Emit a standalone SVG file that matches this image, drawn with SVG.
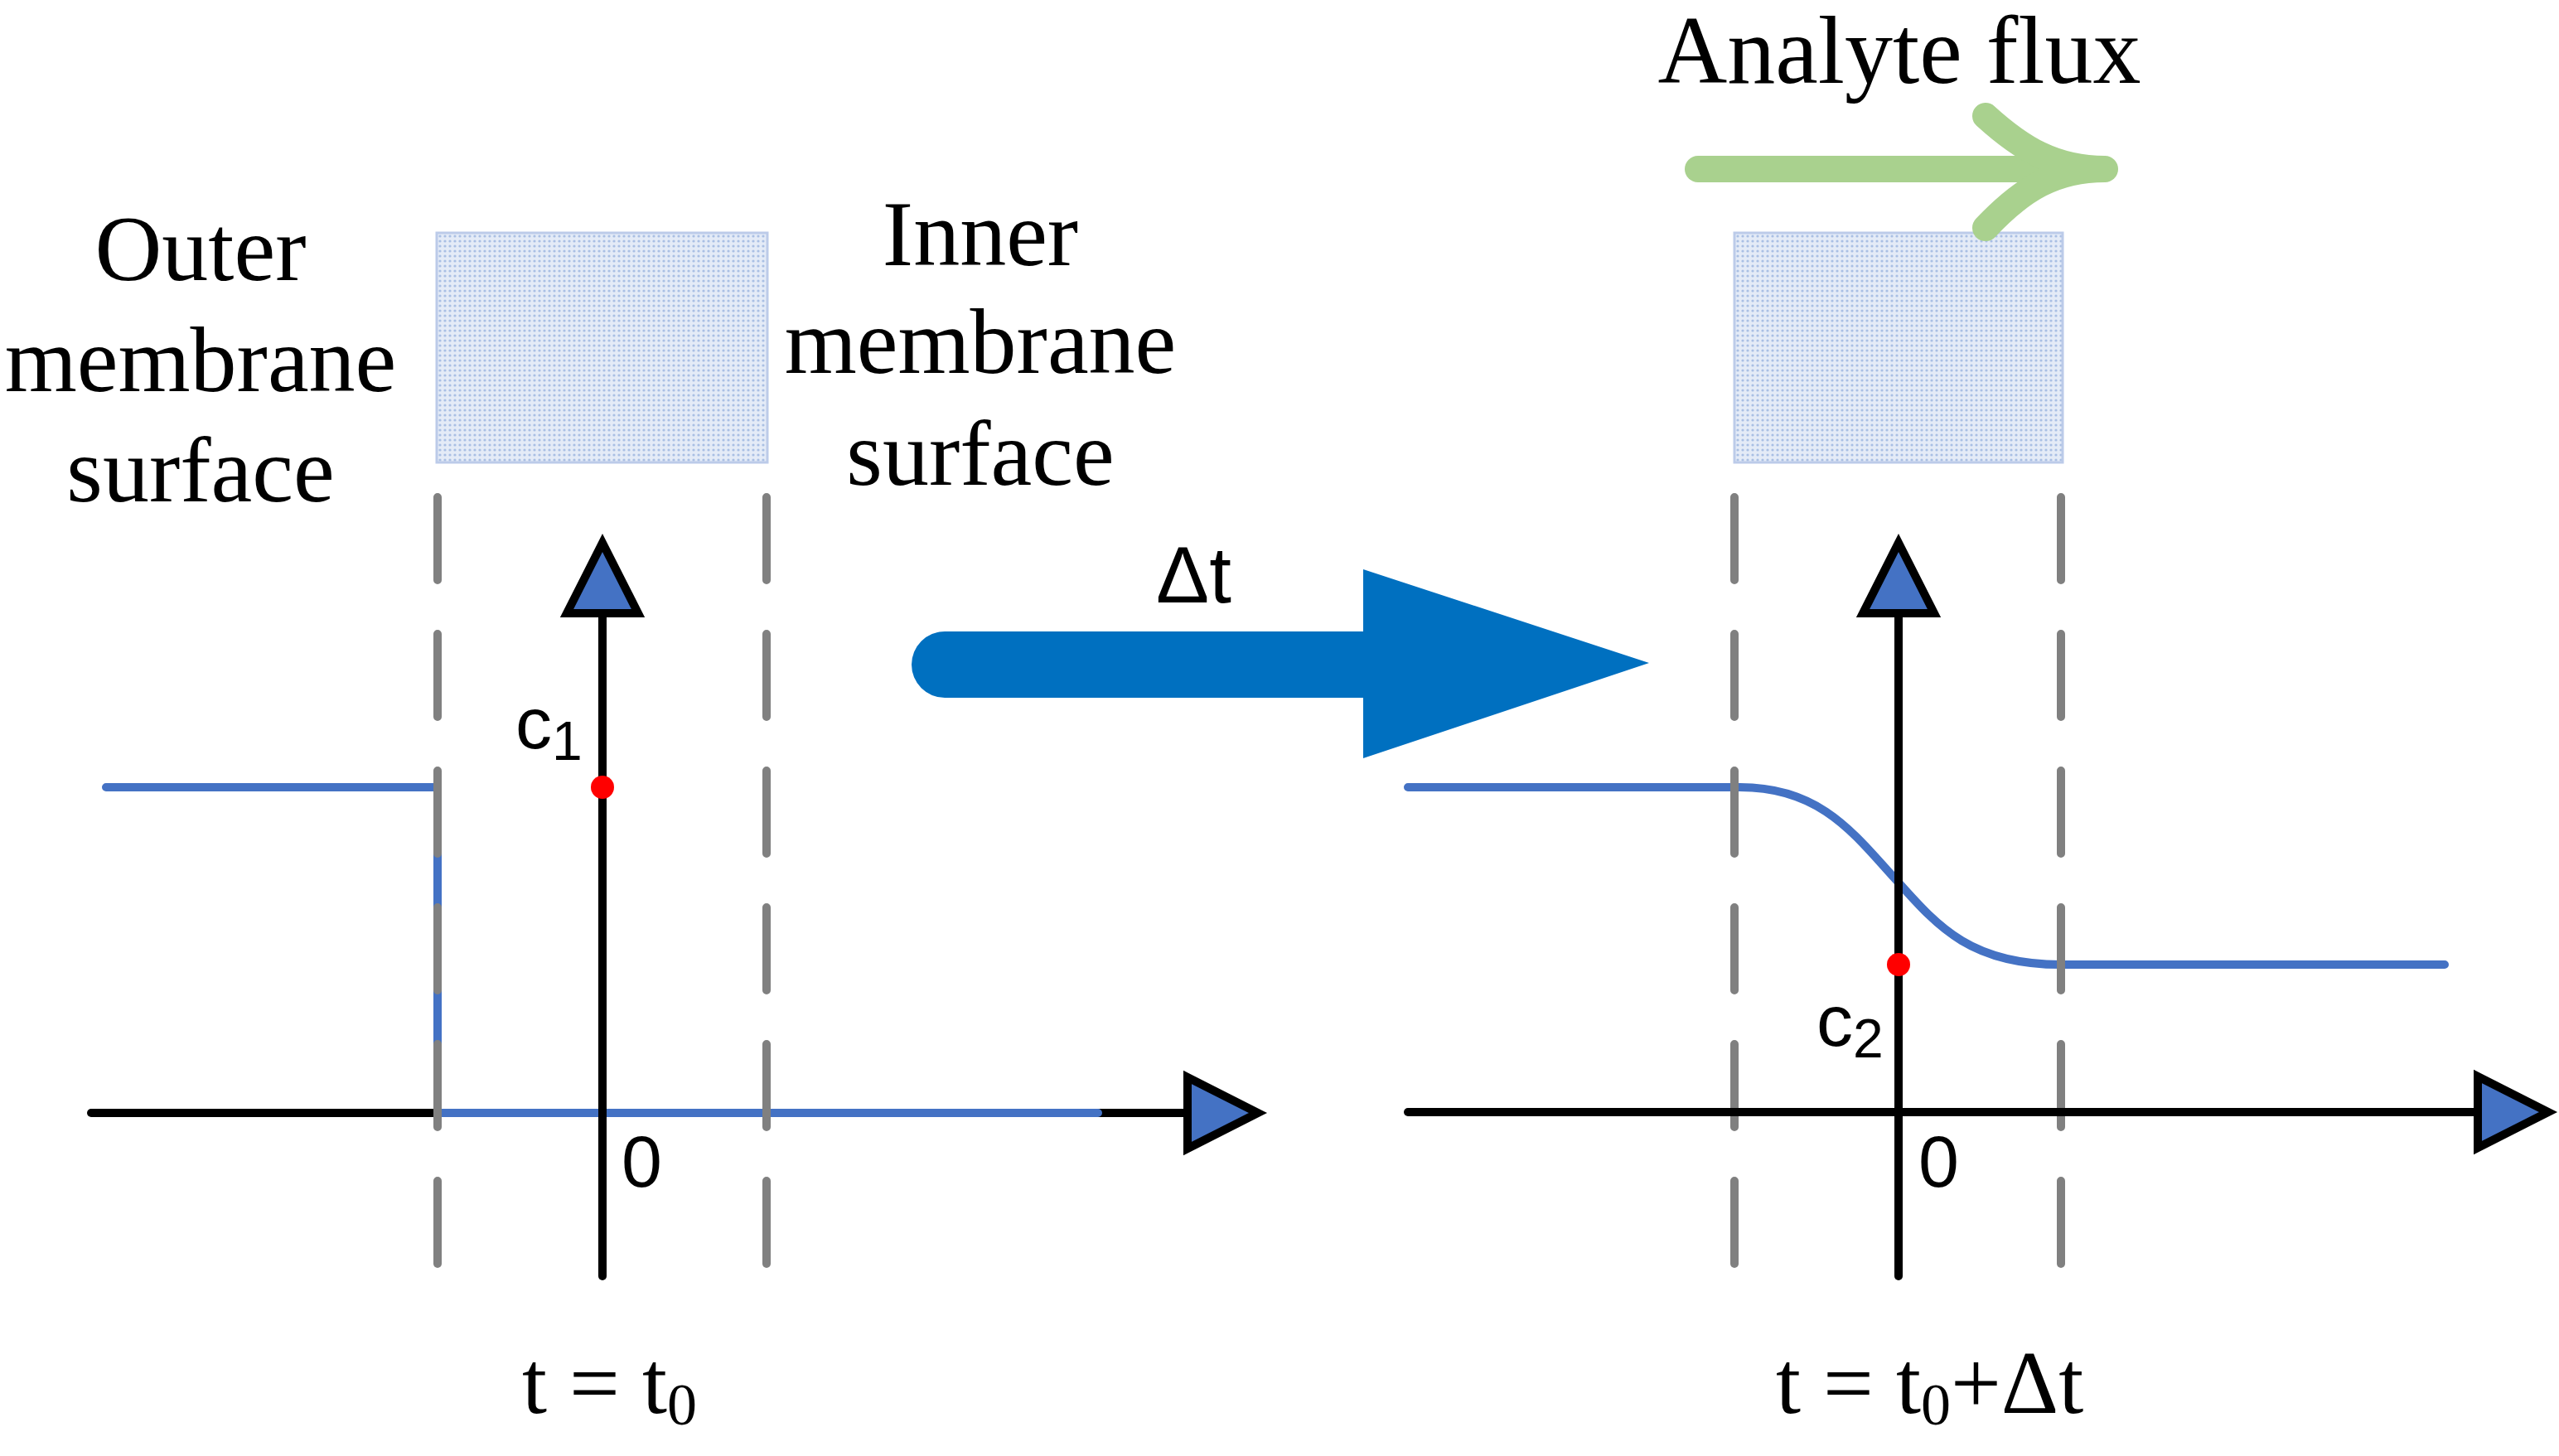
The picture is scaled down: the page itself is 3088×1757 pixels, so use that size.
<svg xmlns="http://www.w3.org/2000/svg" width="3088" height="1757" viewBox="0 0 3088 1757">
<style>
.serif{font-family:"Liberation Serif","Times New Roman",serif;fill:#000}
.sans{font-family:"Liberation Sans",Arial,sans-serif;fill:#000}
.mem{stroke:#bccbe9;stroke-width:3}
.dash{stroke:#808080;stroke-width:10;stroke-dasharray:100 65;stroke-linecap:round;fill:none}
.axis{stroke:#000;stroke-width:10;fill:none;stroke-linecap:round}
.head{fill:#4472c4;stroke:#000;stroke-width:10;stroke-linejoin:miter}
.curve{stroke:#4472c4;stroke-width:10;fill:none;stroke-linecap:round}
</style>
<defs>
<pattern id="dots" width="6" height="6" patternUnits="userSpaceOnUse">
<rect width="6" height="6" fill="#e4ebf7"/>
<circle cx="3" cy="3" r="1.6" fill="#a9bfe4"/>
</pattern>
</defs>
<g id="left-panel">
<rect class="mem" x="527" y="281" width="399" height="277" fill="url(#dots)"/>
<line class="axis" x1="110" y1="1343" x2="1435" y2="1343"/>
<polyline class="curve" points="128,950 528,950 528,1343 1325,1343"/>
<line class="dash" x1="528" y1="600" x2="528" y2="1530"/>
<line class="dash" x1="925" y1="600" x2="925" y2="1530"/>
<polygon class="head" points="1433,1300 1518,1343 1433,1386"/>
<line class="axis" x1="727" y1="1540" x2="727" y2="740"/>
<polygon class="head" points="684,740 727,655 770,740"/>
<circle cx="727" cy="950" r="14" fill="#ff0000"/>
<text class="sans" x="622" y="903" font-size="88">c<tspan font-size="66" dy="14">1</tspan></text>
<text class="sans" x="750" y="1432" font-size="88">0</text>
<text class="serif" x="630" y="1705" font-size="108">t = t<tspan font-size="72" dy="14">0</tspan></text>
<text class="serif" x="242" y="338" font-size="112" text-anchor="middle">Outer</text>
<text class="serif" x="242" y="472" font-size="112" text-anchor="middle">membrane</text>
<text class="serif" x="242" y="605" font-size="112" text-anchor="middle">surface</text>
<text class="serif" x="1183" y="320" font-size="112" text-anchor="middle">Inner</text>
<text class="serif" x="1183" y="450" font-size="112" text-anchor="middle">membrane</text>
<text class="serif" x="1183" y="585" font-size="112" text-anchor="middle">surface</text>
</g>
<g id="connectors">
<path d="M1140,762 H1645 V687 L1990,800 L1645,915 V842 H1140 A40,40 0 0 1 1140,762 Z" fill="#0070c0"/>
<text class="sans" x="1395" y="727" font-size="96">Δt</text>
</g>
<g id="right-panel">
<rect class="mem" x="2093" y="281" width="396" height="277" fill="url(#dots)"/>
<path class="curve" d="M1699,950 H2100 C2200,950 2240,1010 2291,1065 C2340,1120 2380,1164 2487,1164 H2950"/>
<line class="dash" x1="2093" y1="600" x2="2093" y2="1530"/>
<line class="dash" x1="2487" y1="600" x2="2487" y2="1530"/>
<line class="axis" x1="1699" y1="1342" x2="2995" y2="1342"/>
<polygon class="head" points="2990,1299 3075,1342 2990,1385"/>
<line class="axis" x1="2291" y1="1540" x2="2291" y2="740"/>
<polygon class="head" points="2248,740 2291,655 2334,740"/>
<circle cx="2291" cy="1164" r="14" fill="#ff0000"/>
<text class="sans" x="2192" y="1262" font-size="88">c<tspan font-size="66" dy="14">2</tspan></text>
<text class="sans" x="2315" y="1432" font-size="88">0</text>
<text class="serif" x="2143" y="1705" font-size="108">t = t<tspan font-size="72" dy="14">0</tspan><tspan dy="-14">+Δt</tspan></text>
<text class="serif" x="2292" y="100" font-size="116" text-anchor="middle">Analyte flux</text>
<g fill="none" stroke="#a9d18e" stroke-width="32" stroke-linecap="round">
<line x1="2049" y1="204" x2="2540" y2="204"/>
<path d="M2396,140 C2440,180 2480,204 2540,204 C2480,204 2440,228 2396,275"/>
</g>
</g>
</svg>
